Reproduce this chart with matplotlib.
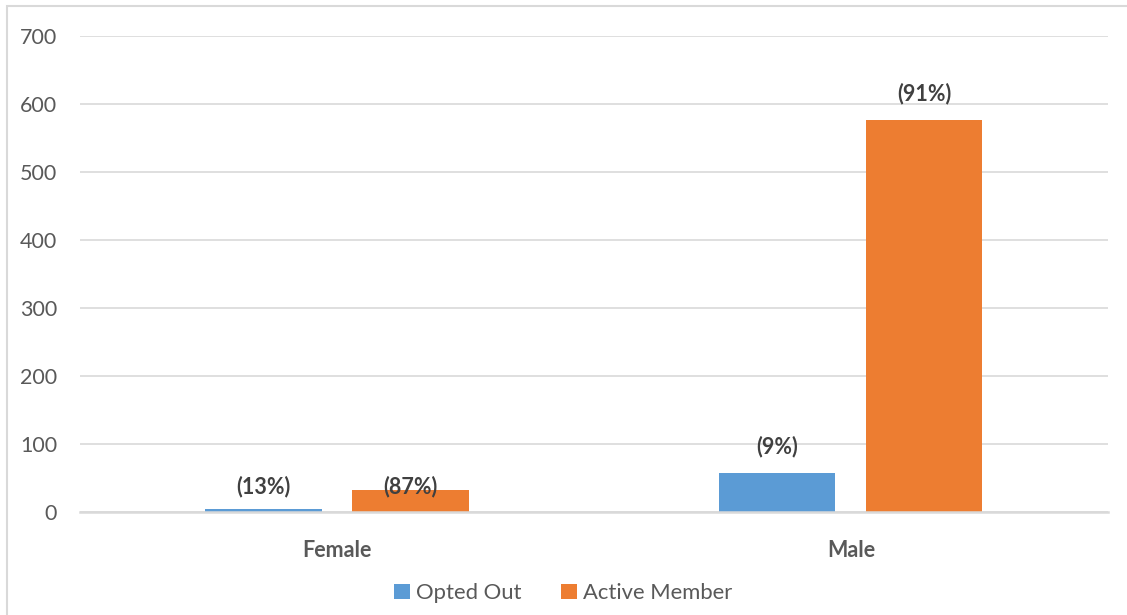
import matplotlib
import matplotlib.pyplot as plt
from matplotlib.patches import Rectangle
import numpy as np

matplotlib.use('Agg')

plt.rcParams['font.family'] = ['Lato', 'DejaVu Sans']

# Data
categories = ['Female', 'Male']
opted_out = [4, 57]
active_member = [32, 576]
opted_labels = ['(13%)', '(9%)']
active_labels = ['(87%)', '(91%)']
# where each label sits (data units), as placed in the original
opted_label_y = [37, 96]
active_label_y = [38, 616]

blue = '#5B9BD5'
orange = '#ED7D31'
grey_text = '#595959'
grid_col = '#D9D9D9'

fig = plt.figure(figsize=(11.27, 6.15), dpi=100)
ax = fig.add_axes([0.071, 0.1675, 0.912, 0.774])

x = np.arange(len(categories))
width = 0.226
off = 0.143

ax.bar(x - off, opted_out, width, color=blue, label='Opted Out', zorder=3)
ax.bar(x + off, active_member, width, color=orange, label='Active Member', zorder=3)

# data labels
for i in range(len(categories)):
    ax.text(x[i] - off, opted_label_y[i], opted_labels[i], ha='center', va='center',
            fontsize=15.5, fontweight='bold', color='#404040', zorder=4)
    ax.text(x[i] + off, active_label_y[i], active_labels[i], ha='center', va='center',
            fontsize=15.5, fontweight='bold', color='#404040', zorder=4)

ax.set_xlim(-0.5, 1.5)
ax.set_ylim(0, 700)
ax.set_yticks(range(0, 701, 100))
ax.yaxis.grid(True, color=grid_col, linewidth=1.2, zorder=0)
ax.set_axisbelow(True)

for s in ['top', 'right', 'left']:
    ax.spines[s].set_visible(False)
ax.spines['bottom'].set_color(grid_col)
ax.spines['bottom'].set_linewidth(1.8)
ax.spines['bottom'].set_zorder(5)

ax.set_xticks(x)
ax.set_xticklabels(categories, fontsize=15.5, fontweight='bold', color=grey_text)
ax.tick_params(axis='x', length=0, pad=20.5)
ax.tick_params(axis='y', length=0, pad=16.5, labelsize=15.5, labelcolor=grey_text)

leg = fig.legend(loc='lower center', bbox_to_anchor=(0.5, -0.013), ncol=2, frameon=False,
                 fontsize=15.8, handlelength=0.7, handleheight=0.7, handletextpad=0.3,
                 columnspacing=1.8)
for t in leg.get_texts():
    t.set_color(grey_text)

# outer chart border
fig.patches.append(Rectangle((7 / 1127, -0.05), 1.1, 1 - 6 / 615 + 0.05,
                             transform=fig.transFigure, fill=False,
                             edgecolor=grid_col, linewidth=1.5))

fig.savefig('out.png', dpi=100)
